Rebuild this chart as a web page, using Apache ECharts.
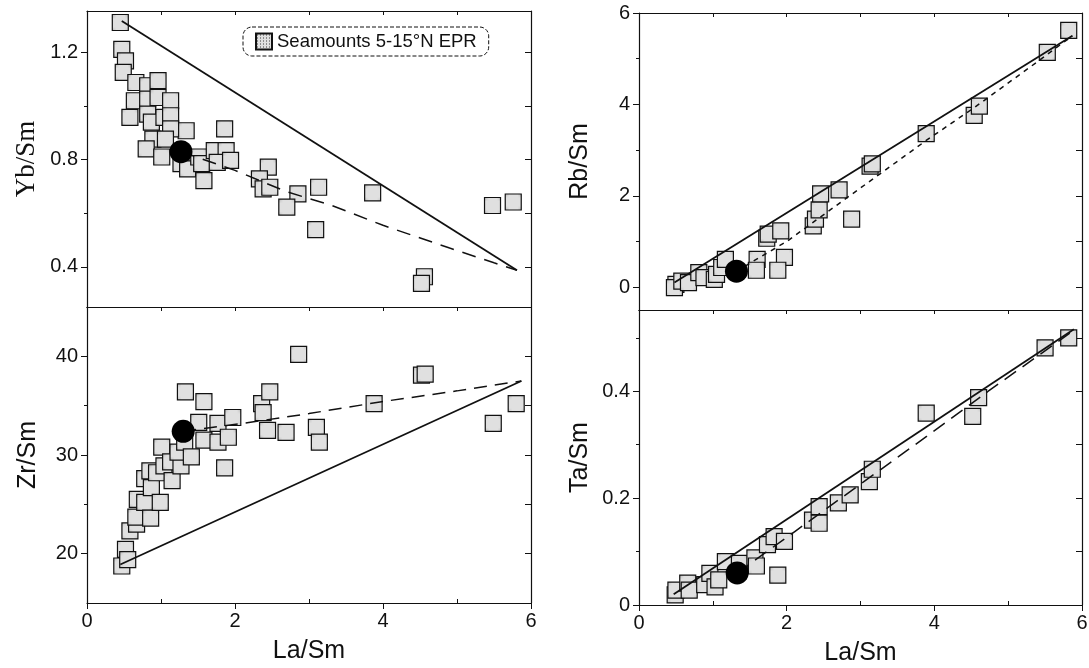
<!DOCTYPE html>
<html>
<head>
<meta charset="utf-8">
<script src="https://cdn.jsdelivr.net/npm/echarts@6/dist/echarts.min.js"></script>
<style>
  html, body { margin: 0; padding: 0; background: #fff; }
  #chart { width: 1089px; height: 668px; }
</style>
</head>
<body>
<div id="chart"></div>
<script>
// ---- data: La/Sm against Yb/Sm, Zr/Sm, Rb/Sm and Ta/Sm ----
const laSmLabels = [0, 2, 4, 6];
const laSmMinor = [1, 3, 5];
const laSmTop = [1, 2, 3, 4, 5];

const ybSmLabels = [0.4, 0.8, 1.2];
const ybSmMinor = [0.6, 1.0];
const zrSmLabels = [20, 30, 40];
const zrSmMinor = [25, 35];
const rbSmLabels = [0, 2, 4, 6];
const rbSmMinor = [1, 3, 5];
const taSmLabels = [0, 0.2, 0.4];
const taSmMinor = [0.1, 0.3, 0.5];

const ybSmSeamounts = [
  [0.45, 1.312], [0.47, 1.212], [0.52, 1.169], [0.49, 1.126], [0.66, 1.088], [0.82, 1.076],
  [0.96, 1.095], [0.64, 1.02], [0.82, 1.026], [0.96, 1.032], [1.13, 1.02], [0.58, 0.958],
  [0.82, 0.97], [0.87, 0.94], [1.04, 0.958], [1.13, 0.964], [1.34, 0.908], [1.13, 0.915],
  [0.89, 0.877], [1.06, 0.877], [0.80, 0.84], [1.01, 0.81], [1.27, 0.785], [1.36, 0.766],
  [1.51, 0.81], [1.55, 0.785], [1.58, 0.722], [1.72, 0.834], [1.88, 0.834], [1.76, 0.79],
  [1.94, 0.797], [1.86, 0.915], [2.45, 0.772], [2.33, 0.728], [2.38, 0.691], [2.47, 0.697],
  [2.85, 0.672], [2.70, 0.623], [3.13, 0.697], [3.09, 0.539], [3.86, 0.676], [4.56, 0.363],
  [4.52, 0.338], [5.48, 0.629], [5.76, 0.642]
];
const ybSmMorb = [[1.27, 0.83]];
const ybSmSolid = [[0.47, 1.318], [5.81, 0.387]];
const ybSmDashed = [[1.27, 0.83], [2.0, 0.76], [2.7, 0.68], [3.3, 0.63], [4.0, 0.555], [4.9, 0.47], [5.5, 0.415], [5.81, 0.387]];

const zrSmSeamounts = [
  [0.47, 18.75], [0.52, 20.44], [0.55, 19.4], [0.58, 22.3], [0.67, 23.0], [0.66, 23.7],
  [0.68, 25.5], [0.78, 25.2], [0.86, 23.6], [0.78, 27.6], [0.85, 28.4], [0.87, 26.7],
  [0.94, 28.2], [0.99, 25.2], [1.01, 30.8], [1.04, 28.9], [1.13, 29.3], [1.15, 27.4],
  [1.27, 28.9], [1.23, 30.3], [1.32, 31.3], [1.41, 29.8], [1.33, 36.4], [1.58, 35.4],
  [1.51, 33.3], [1.58, 31.5], [1.77, 33.2], [1.77, 31.3], [1.91, 31.8], [1.97, 33.8],
  [1.86, 28.7], [2.36, 35.2], [2.38, 34.3], [2.47, 36.4], [2.44, 32.5], [2.69, 32.3],
  [2.86, 40.2], [3.10, 32.8], [3.14, 31.3], [3.88, 35.2], [4.52, 38.1], [4.57, 38.2],
  [5.49, 33.2], [5.80, 35.2]
];
const zrSmMorb = [[1.30, 32.4]];
const zrSmSolid = [[0.45, 18.9], [5.87, 37.5]];
const zrSmDashed = [[1.30, 32.4], [2.1, 33.2], [3.0, 34.2], [3.98, 35.4], [5.0, 36.5], [5.87, 37.5]];

const rbSmSeamounts = [
  [0.50, 0.06], [0.48, -0.01], [0.58, 0.13], [0.67, 0.10], [0.81, 0.32], [0.88, 0.21],
  [1.02, 0.17], [1.05, 0.28], [1.12, 0.43], [1.17, 0.61], [1.60, 0.61], [1.59, 0.37],
  [1.73, 1.07], [1.75, 1.16], [1.92, 1.23], [1.97, 0.65], [1.88, 0.37], [2.36, 1.34],
  [2.39, 1.49], [2.44, 1.69], [2.46, 2.04], [2.71, 2.13], [2.88, 1.49], [3.13, 2.65],
  [3.16, 2.70], [3.89, 3.36], [4.54, 3.76], [4.61, 3.96], [5.53, 5.14], [5.82, 5.62]
];
const rbSmMorb = [[1.32, 0.35]];
const rbSmSolid = [[0.48, 0.10], [5.87, 5.50]];
const rbSmDashed = [[1.32, 0.35], [2.01, 1.01], [2.76, 1.89], [3.89, 3.21], [4.55, 3.94], [5.30, 4.82], [5.87, 5.50]];

const taSmSeamounts = [
  [0.49, 0.019], [0.50, 0.028], [0.66, 0.041], [0.68, 0.028], [0.89, 0.038], [0.96, 0.059],
  [1.03, 0.034], [1.08, 0.047], [1.17, 0.081], [1.36, 0.078], [1.57, 0.088], [1.59, 0.073],
  [1.74, 0.113], [1.83, 0.128], [1.97, 0.119], [1.88, 0.056], [2.35, 0.159], [2.44, 0.184],
  [2.44, 0.153], [2.70, 0.191], [2.86, 0.206], [3.12, 0.231], [3.16, 0.254], [3.89, 0.359],
  [4.52, 0.353], [4.60, 0.388], [5.50, 0.481], [5.82, 0.500]
];
const taSmMorb = [[1.33, 0.06]];
const taSmSolid = [[0.47, 0.02], [5.89, 0.516]];
const taSmDashed = [[1.33, 0.06], [2.11, 0.1375], [3.90, 0.316], [4.73, 0.40], [5.89, 0.514]];

const seriesName = 'Seamounts 5-15°N EPR';

// ---- drawing ----
const INK = '#111';
const SANS = 'Liberation Sans, Arial, sans-serif';
const SERIF = 'Liberation Serif, Times New Roman, serif';

// fine stipple used to fill the square markers
function stipple() {
  const c = document.createElement('canvas');
  c.width = 3; c.height = 3;
  const g = c.getContext('2d');
  g.fillStyle = '#e0e0e0';
  g.fillRect(0, 0, 3, 3);
  g.fillStyle = '#3a3a3a';
  g.fillRect(1, 1, 1, 1);
  return c;
}
const squareFill = { image: stipple(), repeat: 'repeat' };

const panels = [
  { box: { left: 87, top: 11, width: 444, height: 296 }, min: 0.25, max: 1.355,
    labels: ybSmLabels, minor: ybSmMinor, name: 'Yb/Sm', serif: true, bottom: false,
    pts: ybSmSeamounts, morb: ybSmMorb, solid: ybSmSolid, dashed: ybSmDashed, dash: [14, 9] },
  { box: { left: 87, top: 307, width: 444, height: 296 }, min: 15, max: 45,
    labels: zrSmLabels, minor: zrSmMinor, name: 'Zr/Sm', serif: false, bottom: true,
    pts: zrSmSeamounts, morb: zrSmMorb, solid: zrSmSolid, dashed: zrSmDashed, dash: [13, 8] },
  { box: { left: 639, top: 13, width: 443, height: 297 }, min: -0.5, max: 6,
    labels: rbSmLabels, minor: rbSmMinor, name: 'Rb/Sm', serif: false, bottom: false,
    pts: rbSmSeamounts, morb: rbSmMorb, solid: rbSmSolid, dashed: rbSmDashed, dash: [5, 5] },
  { box: { left: 639, top: 310, width: 443, height: 295 }, min: 0, max: 0.552,
    labels: taSmLabels, minor: taSmMinor, name: 'Ta/Sm', serif: false, bottom: true,
    pts: taSmSeamounts, morb: taSmMorb, solid: taSmSolid, dashed: taSmDashed, dash: [14, 8] }
];

const grid = [], xAxis = [], yAxis = [], series = [];
const lineAxis = { show: true, onZero: false, lineStyle: { color: INK, width: 1.2 } };
const noLine = { show: false, onZero: false };

panels.forEach((p, g) => {
  grid.push(Object.assign({ outerBoundsMode: 'none', containLabel: false }, p.box));

  // bottom axis: labels and outward ticks
  const xMain = xAxis.length;
  xAxis.push({
    type: 'value', gridIndex: g, position: 'bottom', min: 0, max: 6,
    axisLine: lineAxis, splitLine: { show: false },
    axisTick: p.bottom ? { show: true, customValues: laSmLabels, length: 6, lineStyle: { color: INK } } : { show: false },
    axisLabel: p.bottom ? { show: true, customValues: laSmLabels, margin: 8, fontSize: 20, color: INK, fontFamily: SANS } : { show: false },
    name: p.bottom ? 'La/Sm' : '', nameLocation: 'middle', nameGap: 36,
    nameTextStyle: { fontSize: 25, color: INK, fontFamily: SANS }
  });
  // bottom axis: short inward minor ticks
  if (p.bottom) {
    xAxis.push({
      type: 'value', gridIndex: g, position: 'bottom', min: 0, max: 6,
      axisLine: noLine, splitLine: { show: false }, axisLabel: { show: false },
      axisTick: { show: true, inside: true, customValues: laSmMinor, length: 4, lineStyle: { color: INK } }
    });
  }
  // top border with inward ticks
  xAxis.push({
    type: 'value', gridIndex: g, position: 'top', min: 0, max: 6,
    axisLine: lineAxis, splitLine: { show: false }, axisLabel: { show: false },
    axisTick: { show: true, inside: true, customValues: laSmTop, length: 4, lineStyle: { color: INK } }
  });

  // left axis: labels and outward ticks
  const yMain = yAxis.length;
  yAxis.push({
    type: 'value', gridIndex: g, position: 'left', min: p.min, max: p.max,
    axisLine: lineAxis, splitLine: { show: false },
    axisTick: { show: true, customValues: p.labels, length: 6, lineStyle: { color: INK } },
    axisLabel: { show: true, customValues: p.labels, margin: 9, fontSize: 20, color: INK, fontFamily: SANS },
    name: p.name, nameLocation: 'middle', nameGap: p.serif ? 47 : 46,
    nameTextStyle: { fontSize: p.serif ? 27 : 25, color: INK, fontFamily: p.serif ? SERIF : SANS }
  });
  // left axis: shorter ticks between the labels
  yAxis.push({
    type: 'value', gridIndex: g, position: 'left', min: p.min, max: p.max,
    axisLine: noLine, splitLine: { show: false }, axisLabel: { show: false },
    axisTick: { show: true, customValues: p.minor, length: 3, lineStyle: { color: INK } }
  });
  // right border with inward ticks at every step
  const rightTicks = p.labels.concat(p.minor).filter(v => v > p.min && v < p.max);
  yAxis.push({
    type: 'value', gridIndex: g, position: 'right', min: p.min, max: p.max,
    axisLine: lineAxis, splitLine: { show: false }, axisLabel: { show: false },
    axisTick: { show: true, inside: true, customValues: rightTicks, length: 6, lineStyle: { color: INK } }
  });

  series.push({
    type: 'scatter', name: seriesName, xAxisIndex: xMain, yAxisIndex: yMain,
    data: p.pts, symbol: 'rect', symbolSize: 16, z: 2,
    itemStyle: { color: squareFill, borderColor: INK, borderWidth: 1.2, opacity: 1 },
    emphasis: { disabled: true }
  });
  series.push({
    type: 'line', xAxisIndex: xMain, yAxisIndex: yMain, data: p.solid,
    showSymbol: false, z: 3, silent: true,
    lineStyle: { color: INK, width: 1.8, opacity: 1 }
  });
  series.push({
    type: 'line', xAxisIndex: xMain, yAxisIndex: yMain, data: p.dashed,
    showSymbol: false, z: 3, silent: true,
    lineStyle: { color: INK, width: 1.5, type: p.dash, opacity: 1 }
  });
  series.push({
    type: 'scatter', xAxisIndex: xMain, yAxisIndex: yMain, data: p.morb,
    symbol: 'circle', symbolSize: 23, z: 4, silent: true,
    itemStyle: { color: '#000', opacity: 1 }
  });
});

const chart = echarts.init(document.getElementById('chart'), null, { renderer: 'canvas' });
chart.setOption({
  animation: false,
  backgroundColor: '#fff',
  grid, xAxis, yAxis, series,
  legend: {
    data: [seriesName], left: 243, top: 27,
    padding: [5, 12, 5, 12], itemWidth: 16, itemHeight: 16, itemGap: 8,
    borderColor: INK, borderWidth: 1, borderType: 'dashed', borderRadius: 9,
    textStyle: { fontSize: 18.5, color: INK, fontFamily: SANS },
    selectedMode: false
  }
});
</script>
</body>
</html>
